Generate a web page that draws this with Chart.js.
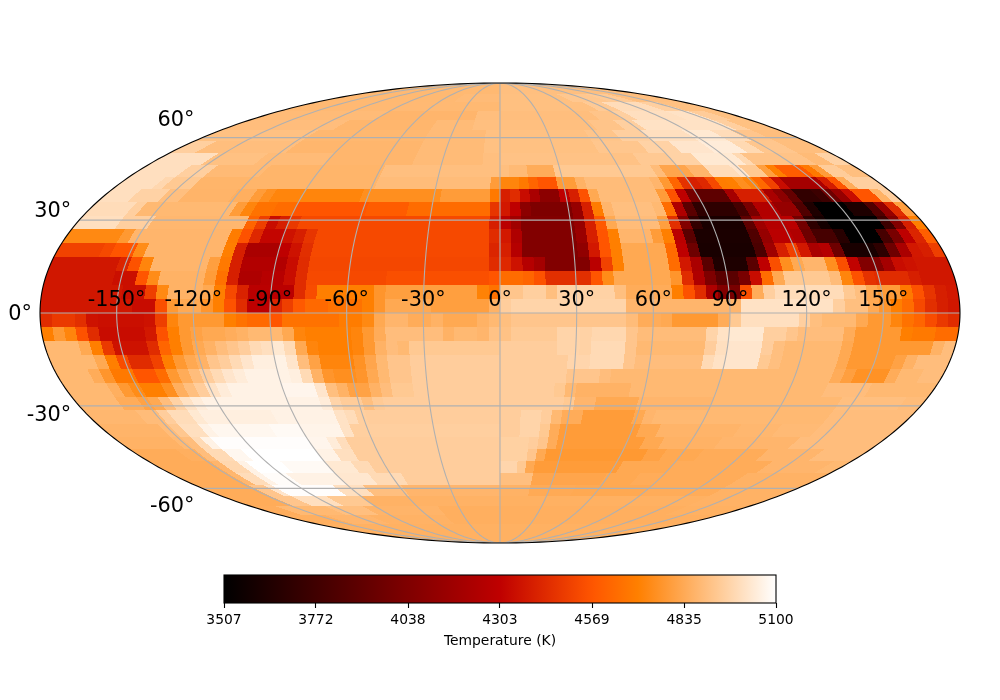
<!DOCTYPE html>
<html><head><meta charset="utf-8">
<style>html,body{margin:0;padding:0;background:#fff}canvas{position:absolute;left:0}</style>
<script src="https://cdn.jsdelivr.net/npm/chart.js@4"></script></head>
<body>
<canvas id="map" width="1000" height="700" style="top:0"></canvas>
<canvas id="bar" width="1000" height="120" style="top:560px"></canvas>
<script>
// Temperature rows, north to south; each cell 4.5 x 4.5 deg, 80 columns from -180.
// Each row lists: first column, temperature (K) held until the next first column.
const N19=[0,4880,40,4900];
const N18=[0,4880,40,4900];
const N17=[0,4880,30,4888,40,4902,56,4925,64,4935,70,4900];
const N16=[0,4882,30,4880,40,4902,58,4935,62,4990,70,4950,74,4905];
const N15=[0,4888,20,4870,36,4897,56,4915,60,4950,62,5000,70,5010,74,4940,77,4905];
const N14=[0,4895,16,4872,30,4888,36,4900,54,4915,58,4950,61,5010,70,5010,74,4950,76,4905];
const N13=[0,4905,14,4877,30,4888,38,4905,52,4918,56,4950,60,5000,66,5030,70,4990,73,4920,76,4897];
const N12=[0,4950,3,4897,14,4872,30,4888,38,4905,52,4922,58,4960,62,5020,66,5040,70,4980,72,4922,76,4897];
const N11=[0,5000,6,4905,12,4888,20,4872,30,4888,38,4900,40,4910,56,4932,60,4960,63,5030,68,4980,69,4912,76,4888,78,4960];
const N10=[0,5000,5,4950,8,4885,14,4868,27,4900,41,4885,43,4840,46,4930,57,4890,58,4820,61,4870,63,4990,66,5020,67,4930,69,4800,70,4700,71,4590,73,4580,74,4680,75,4790,76,4940,78,4900];
const N09=[0,5000,4,4975,5,4930,8,4868,27,4890,39,4790,40,4720,42,4680,43,4620,44,4570,46,4790,48,4860,49,4890,56,4870,57,4780,58,4620,59,4460,60,4400,61,4430,62,4530,63,4690,64,4700,65,4750,66,4720,67,4630,68,4510,69,4340,70,4190,73,4220,74,4390,75,4570,76,4840,77,4950];
const N08=[0,5000,3,4960,6,4900,8,4865,13,4850,15,4790,16,4750,17,4720,26,4750,34,4790,39,4680,40,4400,41,4440,42,4340,43,4215,44,4090,46,4298,47,4400,48,4560,49,4830,50,4890,56,4790,57,4560,58,4298,59,4000,60,3900,63,4200,64,4400,66,4400,67,4210,68,4090,69,3925,70,3715,72,3757,73,3965,74,4130,75,4340,76,4570,78,4860,79,4950];
const N07=[0,4990,4,4950,5,4880,14,4790,15,4720,16,4660,18,4640,20,4570,27,4590,31,4640,39,4470,40,4380,41,4298,42,4090,43,4030,47,4130,48,4400,49,4690,50,4870,51,4900,55,4880,56,4640,57,4235,58,3880,59,3700,63,3800,64,4010,65,4250,67,4130,69,3840,70,3630,71,3507,74,3630,76,3840,77,4130,78,4440,79,4800];
const N06=[0,5000,4,4950,7,4875,16,4620,17,4500,18,4340,19,4400,20,4480,21,4530,39,4400,40,4280,41,4175,42,4050,47,4130,48,4400,49,4580,50,4830,51,4890,55,4800,56,4450,57,4050,58,3715,59,3610,63,3900,64,4170,65,4260,67,4280,68,3985,69,3695,70,3590,71,3507,76,3757,77,4050,78,4400,79,4700];
const N05=[0,4730,5,4780,6,4870,15,4690,16,4560,17,4430,18,4320,20,4360,21,4400,22,4470,23,4530,39,4440,40,4380,41,4235,42,4050,47,4150,48,4400,49,4570,50,4700,51,4870,54,4790,55,4700,56,4280,57,3880,58,3620,63,3840,64,4130,65,4280,67,4240,68,3965,69,3800,71,3670,72,3507,75,3800,76,4010,77,4298,78,4420,79,4600];
const N04=[0,4510,4,4530,5,4570,7,4740,8,4870,15,4700,16,4400,17,4215,20,4298,21,4360,22,4450,23,4530,39,4420,40,4400,41,4260,42,4050,47,4110,48,4380,49,4570,50,4700,51,4830,55,4640,56,4298,57,3965,58,3610,63,3820,64,4170,65,4400,66,4510,67,4380,68,4215,69,4260,70,3965,71,3610,74,3700,75,3965,76,4215,77,4380,78,4400,79,4500];
const N03=[0,4375,6,4420,7,4560,8,4720,9,4870,14,4800,15,4680,16,4400,17,4250,21,4340,22,4440,23,4525,39,4440,40,4430,41,4360,42,4260,43,4190,44,4050,48,4280,49,4510,50,4700,51,4830,55,4640,56,4380,57,4215,58,3880,59,3630,62,3880,63,4298,64,4550,65,4750,66,4830,67,4870,69,4750,70,4550,71,4310,72,4050,74,4190,75,4340,76,4360,77,4375];
const N02=[0,4375,6,4350,8,4570,9,4740,10,4860,14,4790,15,4660,16,4400,17,4230,19,4270,21,4340,22,4440,23,4530,30,4550,39,4570,40,4640,42,4620,43,4560,44,4450,48,4570,49,4740,50,4830,55,4770,56,4440,57,4235,58,4030,59,3880,61,4010,62,4340,63,4640,64,4830,65,4930,69,4890,70,4720,71,4560,72,4460,73,4440,76,4400,77,4375];
const N01=[0,4375,7,4350,9,4500,10,4730,11,4860,14,4830,15,4700,16,4530,17,4410,18,4280,22,4440,23,4540,24,4700,29,4770,30,4800,38,4710,39,4660,40,4920,42,4950,44,4900,45,4960,50,4900,51,4840,55,4700,56,4560,57,4440,58,4230,59,4050,60,4010,61,4550,62,4840,63,4950,64,4990,70,4930,71,4900,72,4830,73,4790,75,4680,76,4560,77,4470,78,4400,79,4380];
const N00=[0,4375,8,4340,10,4550,11,4780,12,4830,14,4770,15,4700,16,4560,17,4440,18,4300,20,4420,21,4500,22,4580,23,4630,25,4660,28,4700,29,4770,30,4830,34,4800,39,4860,40,4945,41,4965,51,4870,61,5010,69,4950,70,4900,72,4830,73,4770,74,4700,75,4640,76,4530,77,4450,78,4400,79,4375];
const S00=[0,4440,1,4480,3,4450,4,4360,5,4350,9,4360,10,4500,11,4720,12,4780,16,4700,17,4660,18,4630,20,4570,21,4660,26,4690,28,4730,29,4830,30,4870,32,4840,34,4860,35,4830,38,4860,39,4880,40,4900,41,4920,51,4890,52,4840,54,4830,55,4780,59,4840,60,4930,61,5000,66,4950,67,4900,68,4880,71,4830,72,4780,74,4720,75,4660,76,4620,77,4540,78,4480,79,4440];
const S01=[0,4700,1,4780,2,4720,3,4560,4,4440,5,4340,9,4380,10,4560,11,4700,12,4780,13,4810,14,4830,16,4845,17,4860,18,4880,21,4830,22,4720,23,4700,27,4720,28,4780,29,4840,30,4895,35,4860,36,4880,38,4870,39,4910,41,4935,45,4965,47,4960,48,4975,51,4920,52,4890,58,4965,59,5010,60,5030,63,4950,65,4920,66,4895,70,4840,71,4780,75,4700,76,4680,78,4640];
const S02=[0,4880,3,4830,4,4700,5,4480,6,4360,9,4440,10,4620,11,4700,12,4780,13,4830,14,4860,15,4895,16,4920,17,4945,18,4985,19,5000,20,5030,21,4985,22,4830,23,4720,24,4700,27,4720,28,4780,29,4860,30,4895,31,4880,32,4930,40,4945,45,4965,47,4960,48,4985,51,4920,52,4880,58,4945,59,5000,60,5020,63,4945,64,4900,65,4880,70,4830,71,4780,78,4860,79,4895];
const S03=[0,4880,4,4830,5,4700,6,4540,7,4440,9,4510,10,4700,11,4780,12,4830,13,4860,14,4920,15,4945,16,4985,17,5020,18,5050,20,5060,21,5020,22,4895,23,4810,24,4720,27,4760,28,4820,29,4880,30,4920,32,4945,46,4970,48,4985,51,4920,52,4895,58,4985,59,5010,60,5020,63,4930,64,4900,65,4880,70,4830,71,4780,75,4810,76,4860,77,4895];
const S04=[0,4880,3,4840,4,4770,5,4680,7,4570,9,4640,10,4780,11,4840,12,4895,13,4945,14,4985,15,5020,16,5040,17,5060,21,5050,22,4985,23,4860,24,4770,25,4750,27,4770,28,4830,29,4880,30,4920,32,4945,46,4920,49,4895,50,4880,70,4840,71,4800,72,4760,75,4840,76,4880,78,4895];
const S05=[0,4880,4,4850,5,4780,6,4740,7,4700,9,4750,10,4850,11,4900,12,4945,13,5010,14,5040,15,5060,20,5070,23,5020,24,4900,25,4860,26,4810,28,4860,29,4895,30,4930,32,4945,45,4930,46,4880,47,4860,52,4880,70,4895,74,4880];
const S06=[0,4880,4,4840,6,4810,7,4830,8,4895,9,4960,10,5010,11,5040,12,5060,23,5040,24,4965,25,4940,27,4900,28,4935,29,4945,46,4930,47,4870,49,4830,53,4870,60,4880,72,4900,78,4890];
const S07=[0,4875,5,4890,7,4945,8,4990,10,5030,11,5050,18,5060,24,5010,25,4990,26,4950,27,4945,42,4965,44,4945,45,4880,46,4840,48,4790,53,4830,54,4870,55,4880,72,4895];
const S08=[0,4865,6,4890,7,4925,8,5000,10,5060,11,5075,17,5085,20,5065,24,5010,25,4950,40,4945,42,4965,44,4930,45,4840,46,4790,54,4830,56,4865,64,4875,68,4885,72,4895];
const S09=[0,4860,6,4880,7,4895,8,4985,9,5060,10,5095,20,5070,22,5040,23,4995,24,4945,40,4955,43,4945,44,4920,45,4840,46,4790,55,4830,57,4860,63,4870,71,4895];
const S10=[0,4840,5,4850,7,4895,8,4985,10,5075,12,5100,20,5060,22,5000,24,4945,40,4955,43,4920,44,4830,45,4780,56,4810,58,4830,62,4840,69,4870,75,4895];
const S11=[0,4840,7,4870,8,4975,10,5060,11,5100,15,5085,20,5030,23,4985,25,4945,40,4970,42,4930,43,4830,44,4790,54,4830,60,4840,71,4870,78,4880];
const S12=[0,4840,7,4875,8,4990,10,5060,11,5090,14,5060,20,5025,24,4985,28,4945,40,4900,44,4820,53,4830,57,4840,70,4860];
const S13=[0,4840,7,4920,9,5020,10,5095,18,5000,22,4900,27,4870,40,4860,44,4835,50,4830,60,4840,70,4860];
const S14=[0,4840,7,4920,10,5000,15,4930,20,4860,40,4855,70,4860];
const S15=[0,4845,4,4880,12,4900,18,4865,30,4850,70,4855];
const S16=[0,4850,8,4870,16,4860,30,4850];
const S17=[0,4855];
const S18=[0,4855];
const S19=[0,4855];
const latitudeRows=[N19,N18,N17,N16,N15,N14,N13,N12,N11,N10,N09,N08,N07,N06,N05,N04,N03,N02,N01,N00,
                    S00,S01,S02,S03,S04,S05,S06,S07,S08,S09,S10,S11,S12,S13,S14,S15,S16,S17,S18,S19];
const lonTicks=[-150,-120,-90,-60,-30,0,30,60,90,120,150];
const latTicks=[60,30,0,-30,-60];
const colorTicks=[3507,3772,4038,4303,4569,4835,5100];
const colorTitle="Temperature (K)";
const vMin=3507, vMax=5100;

const FONT='"DejaVu Sans"';
const CELL=4.5, NCOL=80;
Chart.defaults.font.family=FONT;
function heatRGB(v){
  const x=Math.min(1,Math.max(0,(v-vMin)/(vMax-vMin)));
  const c=t=>Math.round(255*Math.min(1,Math.max(0,t)));
  return [c(1.5*x),c(2*x-1),c(4*x-3)];
}
function heat(v){const c=heatRGB(v);return `rgb(${c[0]},${c[1]},${c[2]})`;}
function thetaOf(lat){
  const phi=lat*Math.PI/180;
  if(Math.abs(lat)>=90)return Math.sign(lat)*Math.PI/2;
  let t=phi;
  for(let i=0;i<60;i++){t-= (2*t+Math.sin(2*t)-Math.PI*Math.sin(phi))/(2+2*Math.cos(2*t));}
  return t;
}
function moll(lon,lat){
  const t=thetaOf(lat);
  return {x:2*Math.SQRT2/Math.PI*(lon*Math.PI/180)*Math.cos(t),y:Math.SQRT2*Math.sin(t)};
}
function expand(runs){
  const out=new Array(NCOL);let k=0;
  for(let c=0;c<NCOL;c++){
    while(k+2<runs.length&&runs[k+2]<=c)k+=2;
    out[c]=runs[k+1];
  }
  return out;
}
const cells=[];
latitudeRows.forEach((runs,r)=>{
  expand(runs).forEach((v,c)=>{
    const m=moll(-180+(c+0.5)*CELL,90-(r+0.5)*CELL);
    cells.push({x:m.x,y:m.y,v,row:r,col:c});
  });
});
const mapPlugin={
  id:'mollweide',
  beforeDatasetsDraw(chart){
    const {ctx,chartArea:A,scales:{x:X,y:Y}}=chart;
    const P=(lon,lat)=>{const m=moll(lon,lat);return [X.getPixelForValue(m.x),Y.getPixelForValue(m.y)];};
    const outline=()=>{
      ctx.beginPath();
      for(let i=0;i<=360;i++){
        const a=i*Math.PI/180;
        const px=X.getPixelForValue(2*Math.SQRT2*Math.cos(a)),py=Y.getPixelForValue(Math.SQRT2*Math.sin(a));
        i?ctx.lineTo(px,py):ctx.moveTo(px,py);
      }
      ctx.closePath();
    };
    // paint every pixel from the cell it falls in, found through the scales
    const colours={};
    const lookup=chart.data.datasets[0].data;
    const x0=Math.floor(A.left),y0=Math.floor(A.top),w=Math.ceil(A.right)-x0,h=Math.ceil(A.bottom)-y0;
    const img=ctx.getImageData(x0,y0,w,h),d=img.data;
    for(let j=0;j<h;j++){
      const my=Y.getValueForPixel(y0+j+0.5),s=my/Math.SQRT2;
      if(Math.abs(s)>=1)continue;
      const t=Math.asin(s),lat=Math.asin((2*t+Math.sin(2*t))/Math.PI)*180/Math.PI;
      const row=Math.min(39,Math.floor((90-lat)/CELL));
      for(let i=0;i<w;i++){
        const mx=X.getValueForPixel(x0+i+0.5);
        const lon=(mx*Math.PI/(2*Math.SQRT2*Math.cos(t)))*180/Math.PI;
        if(lon<-180||lon>=180)continue;
        const col=Math.floor((lon+180)/CELL);
        const v=lookup[row*NCOL+col].v;
        const c=colours[v]||(colours[v]=heatRGB(v));
        const q=(j*w+i)*4;
        d[q]=c[0];d[q+1]=c[1];d[q+2]=c[2];d[q+3]=255;
      }
    }
    ctx.putImageData(img,x0,y0);
    ctx.save();
    outline();ctx.clip();
    ctx.strokeStyle='#b0b0b0';ctx.lineWidth=1.1;
    lonTicks.forEach(lon=>{
      ctx.beginPath();
      for(let lat=-90;lat<=90;lat+=1){const p=P(lon,lat);lat===-90?ctx.moveTo(p[0],p[1]):ctx.lineTo(p[0],p[1]);}
      ctx.stroke();
    });
    latTicks.forEach(lat=>{
      const a=P(-180,lat),b=P(180,lat);
      ctx.beginPath();ctx.moveTo(a[0],a[1]);ctx.lineTo(b[0],b[1]);ctx.stroke();
    });
    ctx.restore();
    ctx.save();
    outline();ctx.strokeStyle='#000';ctx.lineWidth=1.1;ctx.stroke();
    ctx.fillStyle='#000';ctx.font='20.83px '+FONT;
    ctx.textAlign='center';ctx.textBaseline='alphabetic';
    lonTicks.forEach(lon=>{const p=P(lon,0);ctx.fillText(lon+'°',p[0],p[1]-7.5);});
    ctx.textAlign='right';
    const nudge={'60':[-8,-12],'30':[-8,-3],'0':[-8,7],'-30':[-8,15],'-60':[-8,24]};
    latTicks.forEach(lat=>{const p=P(-180,lat),n=nudge[lat];ctx.fillText(lat+'°',p[0]+n[0],p[1]+n[1]);});
    ctx.restore();
  }
};
new Chart(document.getElementById('map'),{
  type:'scatter',
  data:{datasets:[{label:'Temperature',data:cells,pointRadius:0,pointHitRadius:0,showLine:false}]},
  options:{responsive:false,animation:false,devicePixelRatio:1,
    layout:{padding:{left:40,right:40,top:83,bottom:157}},
    plugins:{legend:{display:false},tooltip:{enabled:false}},
    events:[],
    scales:{
      x:{type:'linear',min:-2*Math.SQRT2,max:2*Math.SQRT2,display:false},
      y:{type:'linear',min:-Math.SQRT2,max:Math.SQRT2,display:false}
    }},
  plugins:[mapPlugin]
});
const barPlugin={
  id:'colorbar',
  beforeDatasetsDraw(chart){
    const {ctx,chartArea:A,scales:{x:X}}=chart;
    ctx.save();
    const g=ctx.createLinearGradient(X.getPixelForValue(vMin),0,X.getPixelForValue(vMax),0);
    for(let i=0;i<=64;i++){g.addColorStop(i/64,heat(vMin+(vMax-vMin)*i/64));}
    ctx.fillStyle=g;
    ctx.fillRect(A.left,A.top,A.right-A.left,A.bottom-A.top);
    ctx.strokeStyle='#000';ctx.lineWidth=1.1;
    ctx.strokeRect(A.left,A.top,A.right-A.left,A.bottom-A.top);
    ctx.restore();
  }
};
new Chart(document.getElementById('bar'),{
  type:'scatter',
  data:{datasets:[{label:'colorbar',data:colorTicks.map(v=>({x:v,y:0})),pointRadius:0}]},
  options:{responsive:false,animation:false,events:[],devicePixelRatio:1,
    layout:{padding:{left:224,right:224,top:15,bottom:30}},
    plugins:{legend:{display:false},tooltip:{enabled:false}},
    scales:{
      y:{min:0,max:1,display:false},
      x:{type:'linear',min:vMin,max:vMax,position:'bottom',
        afterBuildTicks(s){s.ticks=colorTicks.map(v=>({value:v}));},
        afterFit(s){s.height=47;},
        grid:{drawOnChartArea:false,drawTicks:true,tickLength:5,tickColor:'#000',tickWidth:1.1},
        border:{display:false},
        ticks:{color:'#000',font:{size:13.89},padding:4,maxRotation:0,autoSkip:false,callback:v=>String(v)},
        title:{display:true,text:colorTitle,color:'#000',font:{size:13.89},padding:{top:4,bottom:0}}
      }
    }},
  plugins:[barPlugin]
});
</script>
</body></html>
